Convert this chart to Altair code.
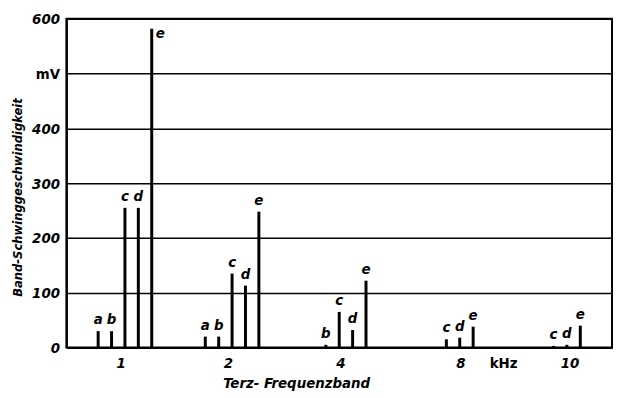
import altair as alt
import pandas as pd

# --- data ---
bands = ["1", "2", "4", "8", "10"]
letters = ["a", "b", "c", "d", "e"]
band_1 = [30, 30, 255, 255, 582]          # a b c d e
band_2 = [20, 20, 135, 113, 248]          # a b c d e
band_4 = [None, 5, 65, 32, 122]           # b c d e
band_8 = [None, None, 15, 18, 38]         # c d e
band_10 = [None, None, 3, 5, 40]          # c d e
values_by_band = [band_1, band_2, band_4, band_8, band_10]

tick_values = [0.46, 1.46, 2.51, 3.63, 4.03, 4.65]
tick_texts = ["1", "2", "4", "8", "kHz", "10"]
y_ticks = [0, 100, 200, 300, 400, 500, 600]

rows = []
for gi, (band, vals) in enumerate(zip(bands, values_by_band)):
    for li, (letter, v) in enumerate(zip(letters, vals)):
        if v is None:
            continue
        rows.append({"band": band, "letter": letter, "value": v,
                     "pos": gi + 0.5 + (li - 2) * 0.125})
df = pd.DataFrame(rows)

FONT = "DejaVu Sans Condensed, DejaVu Sans, sans-serif"

label_map = "{" + ",".join(f"'{v}':'{t}'" for v, t in zip(tick_values, tick_texts)) + "}"

x = alt.X("pos:Q",
          scale=alt.Scale(domain=[0, 5], nice=False, zero=False),
          axis=alt.Axis(values=tick_values,
                        labelExpr=f"{label_map}[toString(datum.value)]",
                        ticks=False, grid=False, domain=True,
                        domainColor="black", domainWidth=2,
                        labelFont=FONT, labelFontSize=15, labelFontWeight="bold",
                        labelFontStyle={"condition": {"test": "datum.value == 4.03", "value": "normal"}, "value": "italic"},
                        labelColor="black", labelPadding=8,
                        title="Terz- Frequenzband", titleFont=FONT, titleFontSize=15,
                        titleFontStyle="italic", titleFontWeight="bold", titleColor="black",
                        titleX=232, titleY=35, titleAlign="center", titleBaseline="middle"))

y = alt.Y("value:Q",
          scale=alt.Scale(domain=[0, 600], nice=False),
          axis=alt.Axis(values=y_ticks,
                        labelExpr="datum.value == 500 ? 'mV' : datum.label",
                        ticks=False, grid=True, gridColor="black", gridWidth=1.5, gridOpacity=1,
                        domain=True, domainColor="black", domainWidth=2,
                        labelFont=FONT, labelFontSize=15, labelFontWeight="bold",
                        labelFontStyle={"condition": {"test": "datum.value == 500", "value": "normal"}, "value": "italic"},
                        labelColor="black", labelPadding=7,
                        title="Band-Schwinggeschwindigkeit", titleFont=FONT, titleFontSize=13,
                        titleFontStyle="italic", titleFontWeight="bold", titleColor="black",
                        titleAngle=-90, titleX=-49, titleY=180, titleAlign="center",
                        titleBaseline="middle"))

base = alt.Chart(df)

bars = base.mark_bar(size=3, color="black").encode(x=x, y=y)

labels = base.transform_filter("datum.value < 500").mark_text(
    font=FONT, fontSize=15, fontStyle="italic", fontWeight="bold",
    color="black", baseline="bottom", dy=-4
).encode(x=alt.X("pos:Q"), y=alt.Y("value:Q"), text="letter:N")

labels_top = base.transform_filter("datum.value >= 500").mark_text(
    font=FONT, fontSize=15, fontStyle="italic", fontWeight="bold",
    color="black", baseline="middle", align="left", dx=4, dy=4
).encode(x=alt.X("pos:Q"), y=alt.Y("value:Q"), text="letter:N")

chart = alt.layer(bars, labels, labels_top).properties(
    width=551, height=332,
    autosize=alt.AutoSizeParams(type="none"),
    padding={"left": 59, "top": 9, "right": 2, "bottom": 46},
    background="white",
).configure_view(stroke="black", strokeWidth=2)

chart.save("out.html", embed_options={"renderer": "svg", "actions": False})
